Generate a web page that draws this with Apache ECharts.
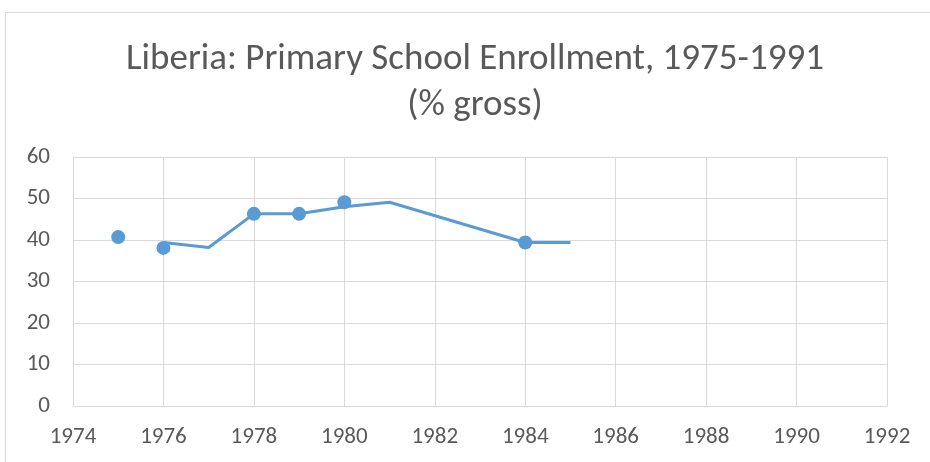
<!DOCTYPE html>
<html>
<head>
<meta charset="utf-8">
<script src="https://cdn.jsdelivr.net/npm/echarts@6/dist/echarts.min.js"></script>
<style>
  html, body { margin: 0; padding: 0; background: #fff; }
  #chart { width: 930px; height: 462px; }
</style>
</head>
<body>
<div id="chart"></div>
<script>
// enrollment markers (year, % gross)
const markerYears = [1975, 1976, 1978, 1979, 1980, 1984]
const markerValues = [40.7, 38.1, 46.3, 46.3, 49.1, 39.4]

// line series drawn through the chart
const lineYears = [1976, 1977, 1978, 1979, 1980, 1981, 1984, 1985]
const lineValues = [39.4, 38.2, 46.3, 46.3, 48.0, 49.1, 39.4, 39.4]

const titleLines = ['Liberia: Primary School Enrollment, 1975-1991', '(% gross)']

const font = 'Carlito, Calibri, "Liberation Sans Narrow", "Open Sans", sans-serif'
const blue = '#5b9bd5'
const gridGray = '#d9d9d9'

const chart = echarts.init(document.getElementById('chart'), null, { renderer: 'canvas' })

chart.setOption({
  backgroundColor: '#fff',
  animation: false,
  graphic: [
    {
      type: 'rect',
      shape: { x: 5.5, y: 12.5, width: 940, height: 470 },
      style: { fill: 'none', stroke: gridGray, lineWidth: 1 },
      silent: true,
    },
  ],
  title: {
    text: titleLines.join('\n'),
    left: 470,
    textAlign: 'center',
    top: 32,
    textStyle: {
      fontFamily: font,
      fontSize: 37,
      fontWeight: 'normal',
      color: '#595959',
      lineHeight: 46,
    },
  },
  grid: { left: 73, right: 43, top: 157, bottom: 56 },
  xAxis: {
    type: 'value',
    min: 1974,
    max: 1992,
    interval: 2,
    axisLine: { show: true, lineStyle: { color: gridGray, width: 1 } },
    axisTick: { show: false },
    splitLine: { show: true, lineStyle: { color: gridGray, width: 1 } },
    axisLabel: {
      color: '#595959',
      fontFamily: font,
      fontSize: 23,
      margin: 20,
      formatter: (v) => String(v),
    },
  },
  yAxis: {
    type: 'value',
    min: 0,
    max: 60,
    interval: 10,
    axisLine: { show: false },
    axisTick: { show: false },
    splitLine: { show: true, lineStyle: { color: gridGray, width: 1 } },
    axisLabel: { color: '#595959', fontFamily: font, fontSize: 23, margin: 23 },
  },
  series: [
    {
      name: 'Line',
      type: 'line',
      data: lineYears.map((y, i) => [y, lineValues[i]]),
      symbol: 'none',
      lineStyle: { color: blue, width: 3 },
      z: 2,
    },
    {
      name: 'Enrollment',
      type: 'scatter',
      data: markerYears.map((y, i) => [y, markerValues[i]]),
      symbol: 'circle',
      symbolSize: 14,
      itemStyle: { color: blue, opacity: 1 },
      z: 3,
    },
  ],
})
</script>
</body>
</html>
